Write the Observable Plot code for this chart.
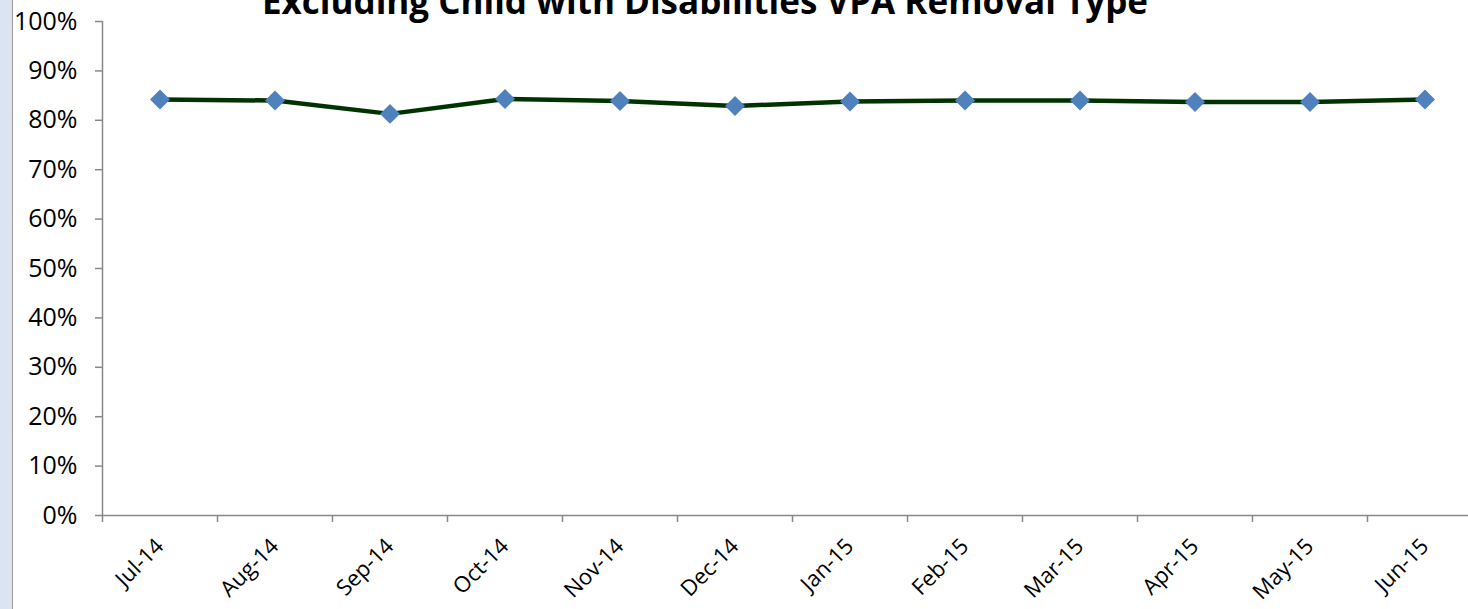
<!DOCTYPE html>
<html>
<head>
<meta charset="utf-8">
<script src="https://cdn.jsdelivr.net/npm/d3@7"></script>
<script src="https://cdn.jsdelivr.net/npm/@observablehq/plot@0.6"></script>
<style>
  html, body { margin: 0; padding: 0; background: #fff; overflow: hidden; }
  #wrap { position: relative; width: 1468px; height: 609px; }
  #strip { position: absolute; left: 0; top: 0; width: 12px; height: 609px; background: #dbe5f1; border-right: 1.5px solid #9a9a9a; z-index: 2; }
  #title { position: absolute; left: 0; top: 0; z-index: 3; }
</style>
</head>
<body>
<div id="wrap">
  <div id="strip"></div>
  <svg id="title" width="1468" height="30">
    <text x="705" y="14" text-anchor="middle" font-family="Open Sans" font-weight="bold" font-size="35" fill="#000">Excluding Child with Disabilities VPA Removal Type</text>
  </svg>
</div>
<script>
const months = ["Jul-14","Aug-14","Sep-14","Oct-14","Nov-14","Dec-14","Jan-15","Feb-15","Mar-15","Apr-15","May-15","Jun-15"];
const rates = [0.842, 0.840, 0.813, 0.843, 0.839, 0.829, 0.838, 0.840, 0.840, 0.837, 0.837, 0.842];
const yTicks = [0, 0.1, 0.2, 0.3, 0.4, 0.5, 0.6, 0.7, 0.8, 0.9, 1.0];

const data = months.map((m, i) => ({month: m, idx: i + 0.5, rate: rates[i]}));
const boundaries = d3.range(months.length + 1);
const centers = months.map((m, i) => i + 0.5);

const chart = Plot.plot({
  width: 1468,
  height: 609,
  marginLeft: 102,
  marginRight: -14,
  marginTop: 21,
  marginBottom: 94,
  style: {fontFamily: "Open Sans", fontSize: "22px", color: "#000", background: "transparent"},
  x: {type: "linear", domain: [0, months.length], axis: null},
  y: {domain: [0, 1], axis: null},
  marks: [
    Plot.axisY({ticks: yTicks, tickFormat: d3.format(".0%"), tickSize: 7, tickPadding: 18, stroke: "#888", strokeWidth: 1.5, fill: "#000", fontSize: 25, label: null}),
    Plot.axisX({ticks: boundaries, tickFormat: () => "", tickSize: 7, stroke: "#888", strokeWidth: 1.5, label: null}),
    Plot.axisX({ticks: centers, tickFormat: d => months[Math.floor(d)], tickSize: 0, tickPadding: 27, tickRotate: -45, fill: "#000", label: null}),
    Plot.ruleX([0], {stroke: "#888", strokeWidth: 1.5}),
    Plot.ruleY([0], {stroke: "#888", strokeWidth: 1.5}),
    Plot.line(data, {x: "idx", y: "rate", stroke: "#003300", strokeWidth: 4.5}),
    Plot.dot(data, {x: "idx", y: "rate", symbol: "diamond2", r: 9, fill: "#4f81bd", stroke: "none"})
  ]
});
document.getElementById("wrap").prepend(chart);
chart.style.position = "absolute";
chart.style.left = "0";
chart.style.top = "0";
</script>
</body>
</html>
